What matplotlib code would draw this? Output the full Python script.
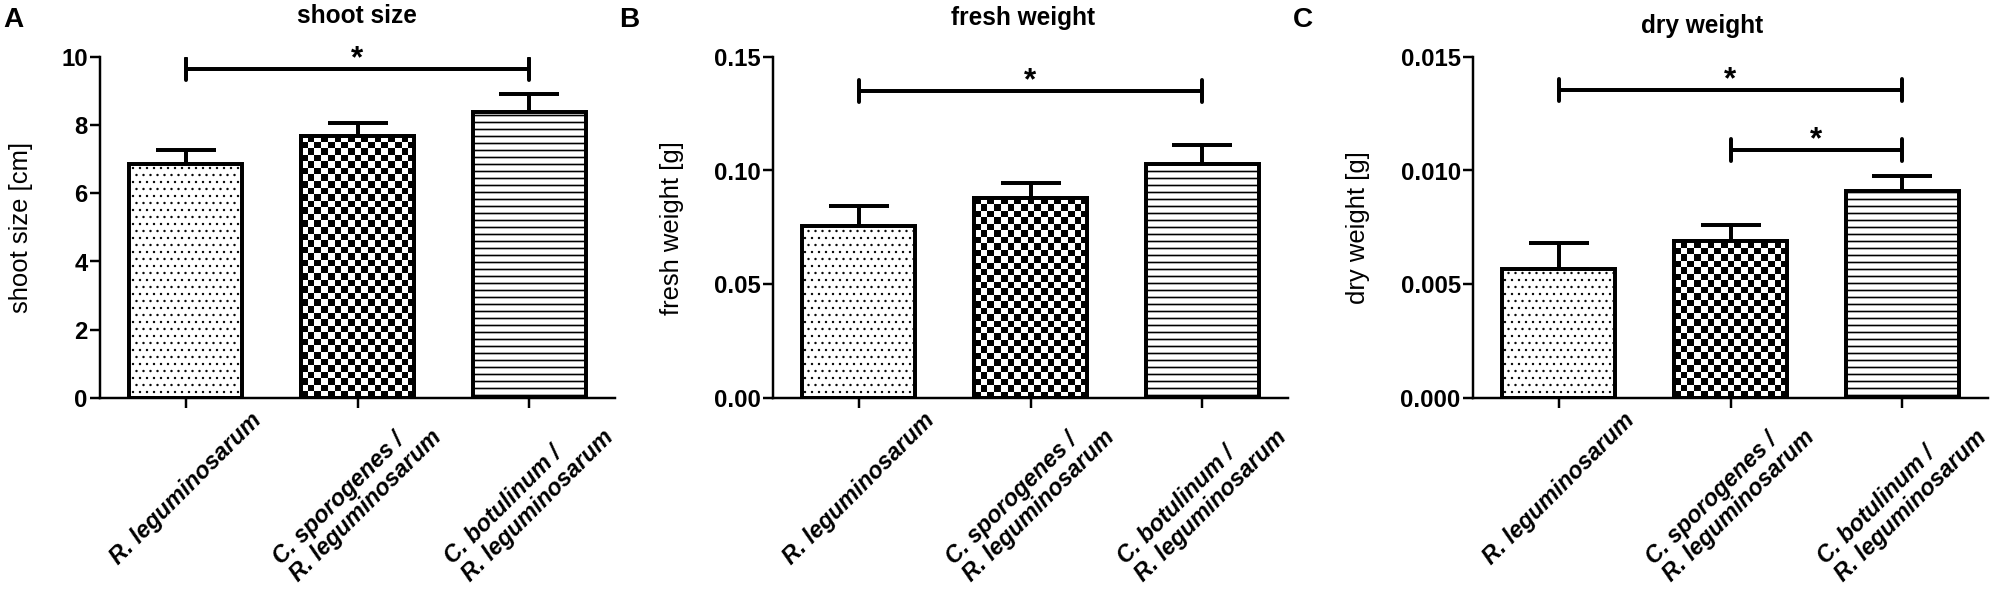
import numpy as np
import matplotlib
matplotlib.use('Agg')
import matplotlib.pyplot as plt
from matplotlib.ticker import FormatStrFormatter

plt.rcParams['font.family'] = ['Liberation Sans', 'DejaVu Sans']
plt.rcParams['hatch.linewidth'] = 1.2

# data
groups = ['R. leguminosarum', 'C. sporogenes /\nR. leguminosarum', 'C. botulinum /\nR. leguminosarum']

shoot_mean = [6.85, 7.68, 8.39]
shoot_err = [0.42, 0.38, 0.52]
fresh_mean = [0.0757, 0.0879, 0.1028]
fresh_err = [0.0086, 0.0066, 0.0082]
dry_mean = [0.00565, 0.00689, 0.00908]
dry_err = [0.00117, 0.00073, 0.00069]

titles = ['shoot size', 'fresh weight', 'dry weight']
ylabels = ['shoot size [cm]', 'fresh weight [g]', 'dry weight [g]']
letters = ['A', 'B', 'C']
ymax = [10, 0.15, 0.015]
yticks = [[0, 2, 4, 6, 8, 10], [0, 0.05, 0.10, 0.15], [0, 0.005, 0.010, 0.015]]
yfmt = ['%d', '%.2f', '%.3f']

# significance brackets (from bar, to bar, height)
sig_A = [(0, 2, 9.65)]
sig_B = [(0, 2, 0.135)]
sig_C = [(0, 2, 0.01355), (1, 2, 0.0109)]

means = [shoot_mean, fresh_mean, dry_mean]
errs = [shoot_err, fresh_err, dry_err]
sigs = [sig_A, sig_B, sig_C]

DPI = 84
W, H = 2000, 598
fig = plt.figure(figsize=(W / DPI, 598.3 / DPI), dpi=DPI)

# layout in pixels
ax_left = [100, 773, 1473]
ax_w = 515
ax_bottom = 200
ax_h = 341
ylab_x = [-0.153, -0.197, -0.223]
title_pos = [(357, 23), (1023, 25), (1702, 33)]
letter_x = [3, 619, 1293]

LW = 3.4


def checker(ax, bar, cell_px=6.5):
    x0, y0 = bar.get_x(), bar.get_y()
    w, h = bar.get_width(), bar.get_height()
    p0 = ax.transData.transform((x0, y0))
    p1 = ax.transData.transform((x0 + w, y0 + h))
    nx = max(1, int(round((p1[0] - p0[0]) / cell_px)))
    ny = max(1, int(round((p1[1] - p0[1]) / cell_px)))
    grid = (np.add.outer(np.arange(ny), np.arange(nx)) % 2).astype(float)
    im = ax.imshow(grid[::-1], cmap='gray', extent=(x0, x0 + w, y0, y0 + h),
                   origin='upper', interpolation='nearest', aspect='auto', zorder=2.5)
    im.set_clip_path(bar)


for i in range(3):
    ax = fig.add_axes([ax_left[i] / W, ax_bottom / H, ax_w / W, ax_h / H])
    x = np.arange(3)
    top = ymax[i]
    ax.set_xlim(-0.5, 2.5)
    ax.set_ylim(0, top)

    ax.errorbar(x, means[i], yerr=[np.zeros(3), errs[i]], fmt='none', ecolor='k',
                elinewidth=LW, capsize=25.5, capthick=LW, zorder=1.5)
    bars = ax.bar(x, means[i], width=0.66, color='white', edgecolor='k',
                  linewidth=LW, zorder=2)
    bars[0].set_hatch('..')
    bars[2].set_hatch('--')
    if hasattr(bars[0], 'set_hatch_linewidth'):
        bars[0].set_hatch_linewidth(0.8)
        bars[2].set_hatch_linewidth(1.4)
    checker(ax, bars[1])
    # edge again over the checker image
    ax.bar(x[1], means[i][1], width=0.66, color='none', edgecolor='k',
           linewidth=LW, zorder=3)
    for b in bars:
        b.set_joinstyle('miter')
    ax.set_xlim(-0.5, 2.5)
    ax.set_ylim(0, top)

    # significance brackets
    d = 11 / ax_h * top
    for a, b, h in sigs[i]:
        ax.plot([a, b], [h, h], color='k', lw=LW, solid_capstyle='butt')
        for xx in (a, b):
            ax.plot([xx, xx], [h - d, h + d], color='k', lw=LW, solid_capstyle='round')
        ax.text((a + b) / 2, h + 2 / ax_h * top, '*', ha='center', va='baseline',
                fontsize=27, fontweight='bold')

    for s in ['top', 'right']:
        ax.spines[s].set_visible(False)
    for s in ['left', 'bottom']:
        ax.spines[s].set_linewidth(2.1)

    ax.set_yticks(yticks[i])
    ax.yaxis.set_major_formatter(FormatStrFormatter(yfmt[i]))
    ax.tick_params(axis='y', length=8.6, width=2.1, pad=2, labelsize=20.5)
    for t in ax.get_yticklabels():
        t.set_fontweight('bold')
    ax.set_xticks(x)
    ax.set_xticklabels(groups, rotation=45, ha='center', va='top',
                       fontstyle='italic', fontweight='bold', fontsize=20,
                       multialignment='left', linespacing=1.1)
    ax.tick_params(axis='x', length=8.6, width=2.1, pad=0)

    ax.set_ylabel(ylabels[i], fontsize=22, va='center')
    ax.yaxis.set_label_coords(ylab_x[i], 0.5)

    fig.text(title_pos[i][0] / W, 1 - title_pos[i][1] / H, titles[i], ha='center',
             va='baseline', fontsize=21, fontweight='bold')
    fig.text(letter_x[i] / W, 1 - 27 / H, letters[i], ha='left', va='baseline',
             fontsize=24, fontweight='bold')

fig.savefig('out.png', dpi=DPI)
